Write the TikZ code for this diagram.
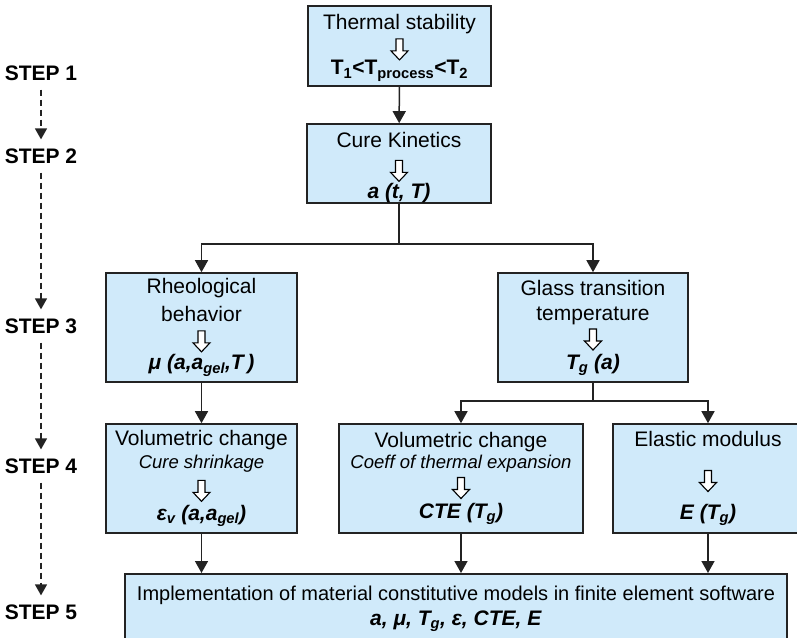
\documentclass[tikz,border=0pt]{standalone}
\usepackage{fontspec}
\setmainfont{Liberation Sans}
\usetikzlibrary{arrows.meta}

\definecolor{boxblue}{RGB}{208,234,250}
\definecolor{boxline}{RGB}{35,35,35}

\newcommand{\boxfont}{\fontsize{21}{25}\selectfont}
\newcommand{\notefont}{\fontsize{18.5}{25}\selectfont\itshape}
\newcommand{\stepfont}{\fontsize{21}{22}\selectfont\bfseries}
\newcommand{\bi}[1]{\textbf{\textit{#1}}}
% hollow arrow used inside the boxes (takes no room in the line)
\newcommand{\hdown}{\smash{\tikz[x=1pt,y=1pt,baseline=0pt]\draw[line width=1.1pt,fill=white]
  (0,0)--(-8.5,9)--(-3.5,9)--(-3.5,21)--(3.5,21)--(3.5,9)--(8.5,9)--cycle;}}

\begin{document}
\begin{tikzpicture}[x=1pt,y=-1pt,
    box/.style={draw=boxline,line width=1.6pt,fill=boxblue,align=center,
      inner sep=0pt,font=\boxfont},
    arr/.style={draw=boxline,line width=1.5pt,-{Triangle[length=12pt,width=13pt]}},
    stepname/.style={font=\stepfont,inner sep=0pt},
    stepline/.style={draw=boxline,line width=1.5pt,dash pattern=on 6pt off 4pt,
      -{Triangle[length=11pt,width=12pt]},shorten <=9pt,shorten >=9pt}]
  \useasboundingbox (0,0) rectangle (797,637);
  \clip (0,0) rectangle (797,637);

  % steps
  \node[stepname] (step1) at (41,73) {STEP 1};
  \node[stepname] (step2) at (41,156) {STEP 2};
  \node[stepname] (step3) at (41,326) {STEP 3};
  \node[stepname] (step4) at (41,466) {STEP 4};
  \node[stepname] (step5) at (41,612) {STEP 5};
  \draw[stepline] (step1) -- (step2);
  \draw[stepline] (step2) -- (step3);
  \draw[stepline] (step3) -- (step4);
  \draw[stepline] (step4) -- (step5);

  % boxes
  \node[box,minimum width=183,minimum height=80] (therm) at (399.5,46)
    {\rule{0pt}{19pt}Thermal stability\\[5pt]\hdown\\[-10pt]\textbf{T\textsubscript{1}<T\textsubscript{process}<T\textsubscript{2}}};
  \node[box,minimum width=184,minimum height=79] (cure) at (399,163.5)
    {\rule{0pt}{23pt}Cure Kinetics\\[9pt]\hdown\\[-8pt]\bi{a (t, T)}};
  \node[box,minimum width=191,minimum height=109] (rheo) at (201.5,327.5)
    {Rheological\\[3pt]behavior\\[5pt]\hdown\\[-7pt]\bi{μ (a,a\textsubscript{gel},T\,)}};
  \node[box,minimum width=190,minimum height=109] (glass) at (593,327.5)
    {Glass transition\\temperature\\[5pt]\hdown\\[-6pt]\bi{T\textsubscript{g} (a)}};
  \node[box,minimum width=191,minimum height=109] (vcure) at (201.5,478.5)
    {Volumetric change\\[-2pt]{\notefont Cure shrinkage}\\[8pt]\hdown\\[-6pt]\bi{ε\textsubscript{v} (a,a\textsubscript{gel})}};
  \node[box,minimum width=244,minimum height=109] (vcte) at (461,478.5)
    {Volumetric change\\[-4pt]{\notefont Coeff of thermal expansion}\\[5pt]\hdown\\[-5pt]\bi{CTE (T\textsubscript{g})}};
  \node[box,minimum width=190,minimum height=109] (elast) at (708,478.5)
    {Elastic modulus\\[20pt]\hdown\\[3pt]\bi{E (T\textsubscript{g})}};
  \node[box,minimum width=662,inner ysep=12pt,anchor=north] (impl) at (456,573)
    {{\fontsize{20}{25}\selectfont Implementation of material constitutive models in finite element software}\\\bi{a, μ, T\textsubscript{g}, ε, CTE, E}};

  % connectors
  \draw[arr] (therm) -- (cure);
  \draw[arr] (cure.south) -- ++(0,40) -| (rheo.north);
  \draw[arr] (cure.south) -- ++(0,40) -| (glass.north);
  \draw[arr] (rheo) -- (vcure);
  \draw[arr] (glass.south) -- ++(0,18) -| (vcte.north);
  \draw[arr] (glass.south) -- ++(0,18) -| (elast.north);
  \draw[arr] (vcure.south) -- (vcure.south |- impl.north);
  \draw[arr] (vcte.south) -- (vcte.south |- impl.north);
  \draw[arr] (elast.south) -- (elast.south |- impl.north);
\end{tikzpicture}
\end{document}
